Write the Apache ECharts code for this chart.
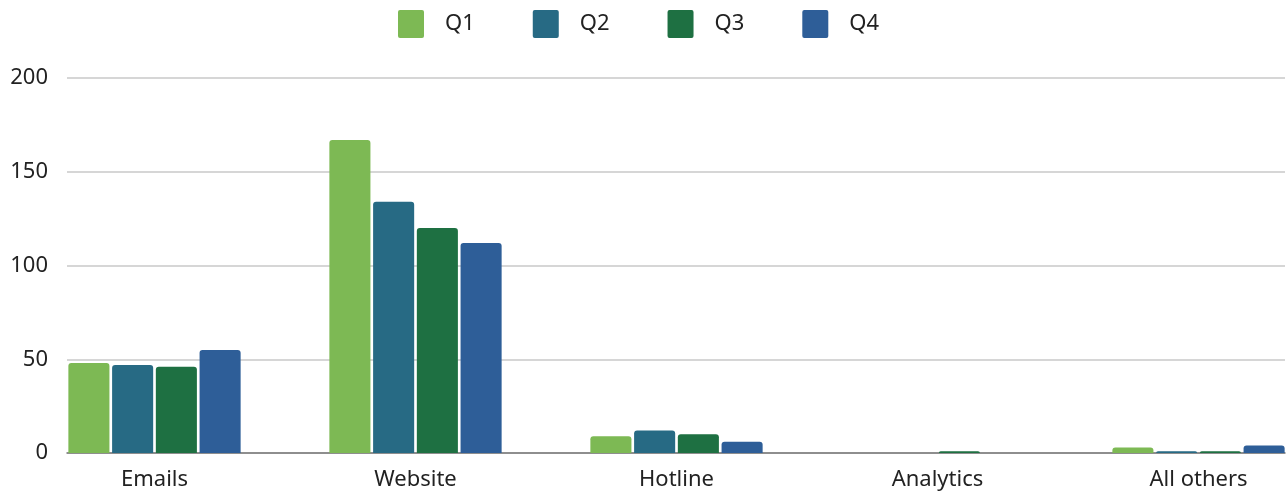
<!DOCTYPE html>
<html>
<head>
<meta charset="utf-8">
<script src="https://cdn.jsdelivr.net/npm/echarts@6/dist/echarts.min.js"></script>
<style>
  html, body { margin: 0; padding: 0; background: #fff; }
  #chart { width: 1287px; height: 493px; }
</style>
</head>
<body>
<div id="chart"></div>
<script>
// Contacts per channel, by quarter
const categories = ['Emails', 'Website', 'Hotline', 'Analytics', 'All others'];
const seriesNames = ['Q1', 'Q2', 'Q3', 'Q4'];
const q1 = [48, 167, 9, 0, 3];
const q2 = [47, 134, 12, 0, 1];
const q3 = [46, 120, 10, 1, 1];
const q4 = [55, 112, 6, 0, 4];
const yTicks = [0, 50, 100, 150, 200];

const colors = ['#7db954', '#276a84', '#1e7042', '#2e5e98'];
const values = [q1, q2, q3, q4];
const FONT = 'Noto Sans';
// slightly rounded square for the legend swatches
const SWATCH = 'path://M2,0 L24,0 Q26,0 26,2 L26,26 Q26,28 24,28 L2,28 Q0,28 0,26 L0,2 Q0,0 2,0 Z';

const chart = echarts.init(document.getElementById('chart'), null, { renderer: 'canvas' });

const yMin = yTicks[0];
const yMax = yTicks[yTicks.length - 1];
const yStep = yTicks[1] - yTicks[0];

chart.setOption({
  animation: false,
  color: colors,
  textStyle: { fontFamily: FONT },
  legend: {
    top: 5,
    left: 393,
    icon: SWATCH,
    itemWidth: 26,
    itemHeight: 28,
    itemGap: 58,
    data: seriesNames,
    textStyle: { fontSize: 22, color: '#222', fontFamily: FONT, padding: [0, 0, 0, 16] }
  },
  grid: [
    // grid 0: value scale, gridlines and baseline
    { left: 67, right: 2, top: 78, bottom: 40, containLabel: false, outerBoundsMode: 'none' },
    // grid 1: the bar groups and category labels, wider than the gridlines
    { left: 24, width: 1305, top: 78, bottom: 40, containLabel: false, outerBoundsMode: 'none' }
  ],
  xAxis: [
    {
      gridIndex: 0, type: 'category', data: categories,
      axisLine: { show: true, lineStyle: { color: '#777', width: 1.5 } },
      axisTick: { show: false }, axisLabel: { show: false }, splitLine: { show: false }
    },
    {
      gridIndex: 1, type: 'category', data: categories,
      axisLine: { show: false }, axisTick: { show: false },
      axisLabel: { fontSize: 22, color: '#222', margin: 16, fontFamily: FONT }
    }
  ],
  yAxis: [
    {
      gridIndex: 0, type: 'value', min: yMin, max: yMax, interval: yStep,
      axisLine: { show: false }, axisTick: { show: false },
      axisLabel: { fontSize: 22, color: '#222', margin: 19, fontFamily: FONT },
      splitLine: { lineStyle: { color: '#c8c8c8', width: 1.5 } }
    },
    {
      gridIndex: 1, type: 'value', min: yMin, max: yMax, interval: yStep,
      show: false, splitLine: { show: false }
    }
  ],
  series: seriesNames.map((name, i) => ({
    name,
    type: 'bar',
    xAxisIndex: 1,
    yAxisIndex: 1,
    data: values[i],
    barCategoryGap: '34%',
    barGap: '6.5%',
    itemStyle: { color: colors[i], borderRadius: [3, 3, 0, 0] }
  }))
});
</script>
</body>
</html>
